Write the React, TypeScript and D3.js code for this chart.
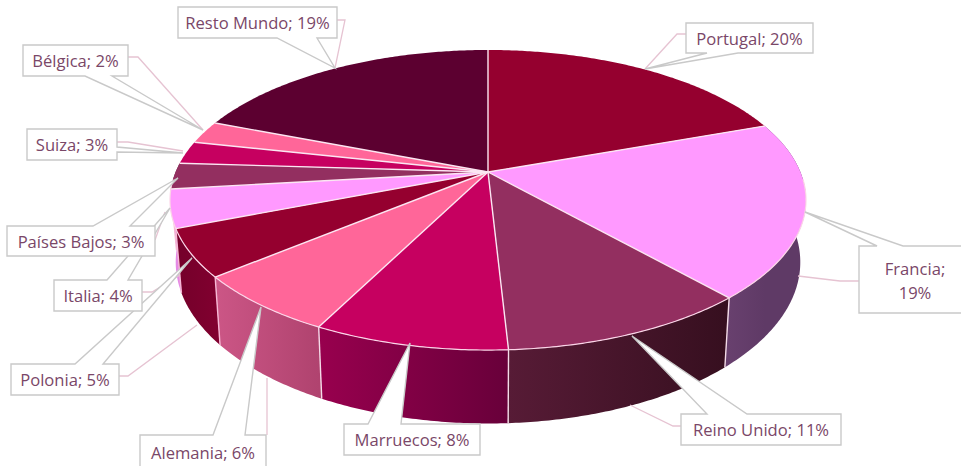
import React from "react";
import * as d3 from "d3";

// ---- data ----
const categories = ["Portugal", "Francia", "Reino Unido", "Marruecos", "Alemania", "Polonia", "Italia", "Países Bajos", "Suiza", "Bélgica", "Resto Mundo"];
const shares = [19.5, 18.9, 10.7, 8.3, 6.5, 5.1, 4.1, 2.8, 2.45, 2.45, 19.1];
const labelPercents = [20, 19, 11, 8, 6, 5, 4, 3, 3, 2, 19];

// ---- styles ----
const topColors = ["#95002f", "#ff99ff", "#932f60", "#c60060", "#ff6699", "#95002f", "#ff99ff", "#932f60", "#c60060", "#ff6699", "#5c0030"];
const sideFrom = ["#7a0028", "#68406e", "#571b36", "#98004e", "#cc5686", "#74002a", "#e58ae5", "#6a2545", "#8a0045", "#b84a78", "#400020"];
const sideTo = ["#7a0028", "#5f3a66", "#360f1f", "#68003a", "#b0436f", "#80002f", "#e58ae5", "#6a2545", "#8a0045", "#b84a78", "#400020"];

// ---- layout of the callouts ----
type Side = "top" | "bottom" | "right";
const callouts: { box: number[]; side: Side; base: number[]; tip: number[]; leader: number[][] }[] = [
  { box: [686, 23, 813, 53], side: "bottom", base: [707, 738], tip: [645, 69], leader: [[686, 34], [677, 34], [645, 69]] },
  { box: [859, 246, 971, 313], side: "top", base: [877, 903], tip: [805, 212], leader: [[859, 281], [840, 281], [798, 276]] },
  { box: [681, 414, 841, 445], side: "top", base: [707, 747], tip: [632, 336], leader: [[681, 426], [673, 426], [630, 405]] },
  { box: [344, 424, 480, 455], side: "top", base: [368, 401], tip: [410, 343], leader: [] },
  { box: [140, 435, 266, 470], side: "top", base: [213, 245], tip: [261, 307], leader: [[267, 435], [267, 378]] },
  { box: [11, 364, 119, 395], side: "top", base: [75, 103], tip: [192, 258], leader: [[119, 376], [128, 376], [197, 325]] },
  { box: [54, 280, 142, 311], side: "top", base: [107, 128], tip: [170, 208], leader: [[142, 292], [152, 292], [180, 275]] },
  { box: [7, 226, 155, 256], side: "top", base: [93, 130], tip: [178, 178], leader: [[155, 240], [165, 212]] },
  { box: [27, 129, 117, 160], side: "right", base: [147, 152], tip: [183, 153], leader: [[117, 142], [128, 142], [183, 151]] },
  { box: [23, 45, 128, 76], side: "bottom", base: [85, 112], tip: [203, 130], leader: [[128, 57], [138, 57], [203, 130]] },
  { box: [178, 7, 337, 38], side: "bottom", base: [277, 317], tip: [335, 68], leader: [[337, 20], [345, 20], [335, 68]] },
];

const W = 961;
const H = 466;
const cx = 488;
const persp = 0.1868;
const topY = 172;
const topA = 312.4;
const topB = 144.8;
const botY = 232;
const botA = 306.8;
const botB = 155.7;

const project = (t: number, cy: number, A: number, B: number): [number, number] => {
  const u = Math.sin(t);
  const v = -Math.cos(t);
  const w = 1 - persp * v;
  return [cx + (A * u) / w, cy + (B * v) / w];
};
const onTop = (t: number) => project(t, topY, topA, topB);
const onBot = (t: number) => project(t, botY, botA, botB);
const arcPts = (a: number, b: number, f: (t: number) => [number, number]) => {
  const n = Math.max(2, Math.ceil((b - a) / 0.01));
  return d3.range(n + 1).map((i) => f(a + ((b - a) * i) / n));
};

const pieData = d3.pie<number>().sort(null).startAngle(0).endAngle(2 * Math.PI)(shares);
const line = d3.line();
const radL = (70 * Math.PI) / 180;
const radR = (290 * Math.PI) / 180;

const calloutPath = (c: (typeof callouts)[number]) => {
  const [x0, y0, x1, y1] = c.box;
  let pts: number[][];
  if (c.side === "top") {
    pts = [[x0, y0], [c.base[0], y0], c.tip, [c.base[1], y0], [x1, y0], [x1, y1], [x0, y1]];
  } else if (c.side === "bottom") {
    pts = [[x0, y0], [x1, y0], [x1, y1], [c.base[1], y1], c.tip, [c.base[0], y1], [x0, y1]];
  } else {
    pts = [[x0, y0], [x1, y0], [x1, c.base[0]], c.tip, [x1, c.base[1]], [x1, y1], [x0, y1]];
  }
  return line(pts as [number, number][]) + "Z";
};

export default function App() {
  const sideOrder = [7, 6, 5, 1, 4, 2, 3];
  return (
    <svg width={W} height={H} viewBox={`0 0 ${W} ${H}`} style={{ position: "absolute", left: 0, top: 0, background: "#fff" }}>
      <defs>
        {pieData.map((d, i) => {
          const a = onTop(d.startAngle)[0];
          const b = onTop(d.endAngle)[0];
          return (
            <linearGradient key={i} id={`side${i}`} gradientUnits="userSpaceOnUse" x1={Math.min(a, b)} x2={Math.max(a, b)} y1={0} y2={0}>
              <stop offset="0%" stopColor={a < b ? sideTo[i] : sideFrom[i]} />
              <stop offset="100%" stopColor={a < b ? sideFrom[i] : sideTo[i]} />
            </linearGradient>
          );
        })}
      </defs>
      {sideOrder.map((i) => {
        const d = pieData[i];
        const a = Math.max(d.startAngle, radL);
        const b = Math.min(d.endAngle, radR);
        if (b <= a) return null;
        const pts = [...arcPts(a, b, onTop), ...arcPts(a, b, onBot).reverse()];
        return <path key={i} d={line(pts as [number, number][]) + "Z"} fill={`url(#side${i})`} />;
      })}
      {pieData.slice(1, 7).map((d, i) => {
        const p = onTop(d.endAngle);
        const q = onBot(d.endAngle);
        if (d.endAngle > radR) return null;
        return <line key={i} x1={p[0]} y1={p[1]} x2={q[0]} y2={q[1]} stroke={i < 3 ? "#f4dbe8" : "#f7b8d6"} strokeWidth={1.4} />;
      })}
      {pieData.map((d, i) => {
        const pts: [number, number][] = [[cx, topY], ...arcPts(d.startAngle, d.endAngle, onTop)];
        return <path key={i} d={line(pts) + "Z"} fill={topColors[i]} />;
      })}
      {pieData.map((d, i) => {
        const p = onTop(d.startAngle);
        return <line key={i} x1={cx} y1={topY} x2={p[0]} y2={p[1]} stroke="#fbe6f2" strokeWidth={1.4} />;
      })}
      <path d={line(arcPts(radL + 0.4, radR - 0.4, onTop) as [number, number][]) || ""} fill="none" stroke="#fbd5e8" strokeWidth={1.2} />
      {callouts.map((c, i) =>
        c.leader.length ? <path key={i} d={line(c.leader as [number, number][]) || ""} fill="none" stroke="#e6c3d2" strokeWidth={1.3} /> : null
      )}
      {[...callouts.keys()].map((i) => {
        const c = callouts[i];
        const [x0, y0, x1, y1] = c.box;
        const xm = (x0 + x1) / 2;
        const name = categories[i];
        const pct = `${labelPercents[i]}%`;
        const two = i === 1;
        return (
          <g key={i}>
            <path d={calloutPath(c)} fill="#fff" stroke="#c9c9c9" strokeWidth={1.4} />
            <text x={xm} y={two ? (y0 + y1) / 2 - 12 : (y0 + y1) / 2} textAnchor="middle" dominantBaseline="central" fontFamily="'Open Sans', 'Noto Sans', sans-serif" fontSize={16.6} fill="#7a4768">
              {two ? <>
                <tspan x={xm}>{name};</tspan>
                <tspan x={xm} dy={24}>{pct}</tspan>
              </> : `${name}; ${pct}`}
            </text>
          </g>
        );
      })}
    </svg>
  );
}
